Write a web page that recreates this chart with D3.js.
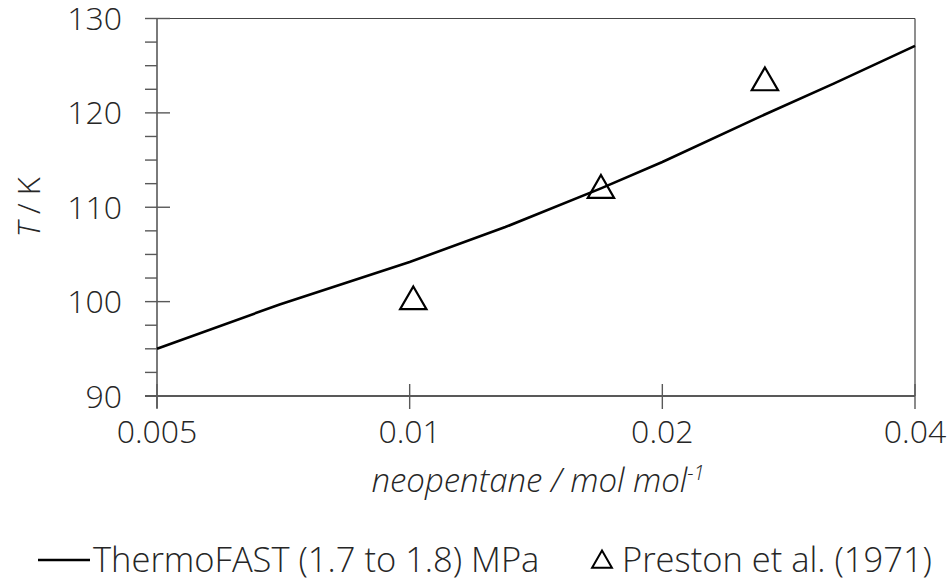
<!DOCTYPE html>
<html><head><meta charset="utf-8">
<script src="https://cdn.jsdelivr.net/npm/d3@7"></script>
<style>body{margin:0;background:#fff}svg{display:block}</style>
</head><body>
<svg id="c" width="951" height="583"></svg>
<script>
const lineX = [0.005, 0.007, 0.01, 0.013, 0.0169, 0.02, 0.026, 0.032, 0.04];
const lineT = [95.0, 99.7, 104.2, 107.9, 112.0, 114.8, 119.5, 123.1, 127.1];
const obsX = [0.0101, 0.0169, 0.0265];
const obsT = [100.0, 111.8, 123.2];
const xTicks = [0.005, 0.01, 0.02, 0.04];
const xTickLabels = ["0.005", "0.01", "0.02", "0.04"];
const yTicks = [90, 100, 110, 120, 130];
const yMinor = [92.5, 95, 97.5, 102.5, 105, 107.5, 112.5, 115, 117.5, 122.5, 125, 127.5];
const seriesNames = ["ThermoFAST (1.7 to 1.8) MPa", "Preston et al. (1971)"];

const svg = d3.select("#c");
const L = 157, R = 915, T = 18.5, B = 396;
const x = d3.scaleLog().base(2).domain([0.005, 0.04]).range([L, R]);
const y = d3.scaleLinear().domain([90, 130]).range([B, T]);
const font = "'Open Sans', sans-serif";
const txt = "#262626", ax = "#595959";

// frame (top & right)
svg.append("line").attr("x1", L).attr("x2", R).attr("y1", T).attr("y2", T).attr("stroke", "#444").attr("stroke-width", 1.2);
svg.append("line").attr("x1", R).attr("x2", R).attr("y1", T).attr("y2", B).attr("stroke", "#444").attr("stroke-width", 1.2);

// y axis
const gy = svg.append("g");
gy.append("line").attr("x1", L).attr("x2", L).attr("y1", T).attr("y2", B + 12).attr("stroke", ax).attr("stroke-width", 1.6);
gy.selectAll(".mn").data(yMinor).join("line").attr("x1", L - 12).attr("x2", L)
  .attr("y1", d => y(d)).attr("y2", d => y(d)).attr("stroke", ax).attr("stroke-width", 1.4);
gy.selectAll(".mj").data(yTicks).join("line").attr("x1", L - 12).attr("x2", L + 13)
  .attr("y1", d => y(d)).attr("y2", d => y(d)).attr("stroke", ax).attr("stroke-width", 1.4);
gy.selectAll("text").data(yTicks).join("text").attr("x", 122).attr("y", d => y(d) + 11.5)
  .attr("text-anchor", "end")
  .attr("font-family", font).attr("font-weight", 300).attr("font-size", 32).attr("fill", txt).text(d => d);

// x axis
const gx = svg.append("g");
gx.append("line").attr("x1", L - 12).attr("x2", R).attr("y1", B).attr("y2", B).attr("stroke", ax).attr("stroke-width", 2);
gx.selectAll("line.t").data(xTicks).join("line").attr("class", "t").attr("x1", d => x(d)).attr("x2", d => x(d))
  .attr("y1", B - 12).attr("y2", B + 13).attr("stroke", ax).attr("stroke-width", 1.4);
gx.selectAll("text").data(xTicks).join("text").attr("x", d => x(d)).attr("y", 443)
  .attr("text-anchor", "middle")
  .attr("font-family", font).attr("font-weight", 300).attr("font-size", 32).attr("fill", txt)
  .text((d, i) => xTickLabels[i]);

// axis titles
const xt = svg.append("text").attr("x", 538).attr("y", 492).attr("text-anchor", "middle")
  .attr("font-family", font).attr("font-weight", 300).attr("font-style", "italic").attr("font-size", 33).attr("fill", txt);
xt.append("tspan").text("neopentane / mol mol");
xt.append("tspan").attr("dy", -12).attr("font-size", 20).text("-1");

const yt = svg.append("text").attr("transform", `translate(40,${(T + B) / 2}) rotate(-90)`).attr("text-anchor", "middle")
  .attr("font-family", font).attr("font-weight", 300).attr("font-size", 31).attr("fill", txt);
yt.append("tspan").attr("font-style", "italic").text("T");
yt.append("tspan").text(" / K");

// line
const pts = lineX.map((d, i) => [d, lineT[i]]);
svg.append("path").datum(pts).attr("fill", "none").attr("stroke", "#000").attr("stroke-width", 2.6)
  .attr("d", d3.line().x(d => x(d[0])).y(d => y(d[1])));

// triangles
const tri = d3.symbol().type(d3.symbolTriangle).size(300);
svg.selectAll("path.tri").data(obsX).join("path").attr("class", "tri")
  .attr("transform", (d, i) => `translate(${x(d)},${y(obsT[i])})`)
  .attr("d", tri).attr("fill", "none").attr("stroke", "#000").attr("stroke-width", 2.2);

// legend
const ly = 572;
svg.append("line").attr("x1", 38).attr("x2", 90).attr("y1", ly - 12).attr("y2", ly - 12).attr("stroke", "#000").attr("stroke-width", 2.6);
svg.append("text").attr("x", 93).attr("y", ly)
  .attr("font-family", font).attr("font-weight", 300).attr("font-size", 34.5).attr("fill", txt).text(seriesNames[0]);
svg.append("path").attr("transform", `translate(602,${ly - 10})`)
  .attr("d", d3.symbol().type(d3.symbolTriangle).size(170))
  .attr("fill", "none").attr("stroke", "#000").attr("stroke-width", 2);
svg.append("text").attr("x", 622).attr("y", ly)
  .attr("font-family", font).attr("font-weight", 300).attr("font-size", 34.5).attr("fill", txt).text(seriesNames[1]);
</script>
</body></html>
